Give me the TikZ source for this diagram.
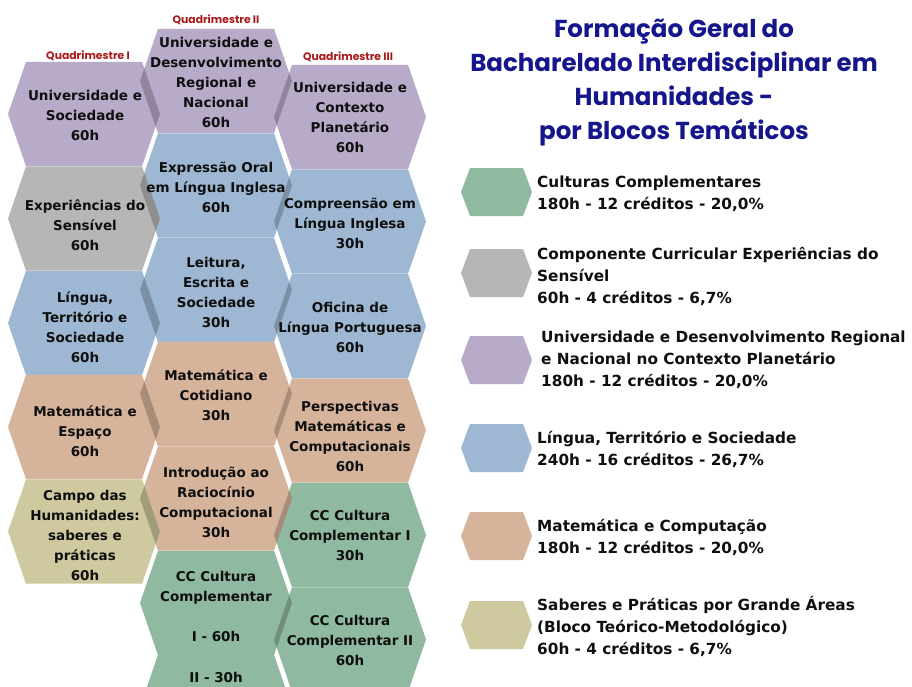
\documentclass[tikz,border=0pt]{standalone}
\usepackage{fontspec}
\setmainfont{DejaVu Sans}
\newfontfamily\titlefont{Poppins}
\definecolor{cpurp}{RGB}{184,171,201}
\definecolor{cgrey}{RGB}{182,182,182}
\definecolor{cblue}{RGB}{158,184,211}
\definecolor{ctan}{RGB}{214,180,155}
\definecolor{ckhaki}{RGB}{206,201,158}
\definecolor{cgreen}{RGB}{143,185,160}
\definecolor{ctitle}{RGB}{22,22,140}
\definecolor{cquad}{RGB}{170,25,25}
\definecolor{ctext}{RGB}{15,15,15}
\tikzset{
 hexp/.style 2 args={insert path={({#1-76},#2) -- ({#1-58},{#2-52.2}) -- ({#1+58},{#2-52.2}) -- ({#1+76},#2) -- ({#1+58},{#2+52.2}) -- ({#1-58},{#2+52.2}) -- cycle}},
 lhexp/.style 2 args={insert path={({#1-35.5},#2) -- ({#1-26.5},{#2-24}) -- ({#1+26.5},{#2-24}) -- ({#1+35.5},#2) -- ({#1+26.5},{#2+24}) -- ({#1-26.5},{#2+24}) -- cycle}},
 hextext/.style={align=center, text=ctext, font=\fontsize{13.5}{20}\selectfont\bfseries, inner sep=0pt},
 legtext/.style={align=left, anchor=west, text=ctext, font=\fontsize{15.3}{22}\selectfont\bfseries, inner sep=0pt},
 quadtext/.style={text=cquad, font=\titlefont\bfseries\fontsize{10.8}{13}\selectfont, inner sep=0pt},
 titletext/.style={align=center, text=ctitle, font=\titlefont\bfseries\fontsize{24.5}{34}\selectfont, inner sep=0pt},
}
\begin{document}
\begin{tikzpicture}[x=1pt,y=-1pt]
\useasboundingbox (0,0) rectangle (912,686);
\clip (0,0) rectangle (912,686);
\fill[white] (0,0) rectangle (912,686);
% column 2 faces
\foreach \d/\col in {81/cpurp,185.5/cblue,290/cblue,394/ctan,498.5/ctan,603/cgreen,707/cgreen}{
  \fill[fill=\col, hexp={216}{\d}];
}
% column 3 faces
\foreach \d/\col in {117/cpurp,221.5/cblue,326/cblue,430.5/ctan,535/cgreen,639.5/cgreen}{
  \fill[fill=\col, hexp={350}{\d}];
}
% folds between column 2 and column 3
\foreach \c in {117,221.5,326,430.5,535,639.5}{
  \begin{scope}
    \clip[hexp={350}{\c}];
    \foreach \d/\col in {81/cpurp,185.5/cblue,290/cblue,394/ctan,498.5/ctan,603/cgreen,707/cgreen}{
      \fill[fill=\col!78!black, hexp={216}{\d}];
    }
  \end{scope}
}
% column 1 faces
\foreach \d/\col in {114/cpurp,218.5/cgrey,323/cblue,427/ctan,531.5/ckhaki}{
  \fill[fill=\col, hexp={84}{\d}];
}
% folds between column 1 and column 2
\foreach \c in {81,185.5,290,394,498.5,603,707}{
  \begin{scope}
    \clip[hexp={216}{\c}];
    \foreach \d/\col in {114/cpurp,218.5/cgrey,323/cblue,427/ctan,531.5/ckhaki}{
      \fill[fill=\col!78!black, hexp={84}{\d}];
    }
  \end{scope}
}
% quadrimestre labels
\node[quadtext] (q1) at (88,56) {Quadrimestre I};
\node[quadtext] (q2) at (216,20) {Quadrimestre II};
\node[quadtext] (q3) at (348,57) {Quadrimestre III};
% column 1 texts
\node[hextext] (t11) at (85,115) {Universidade e\\Sociedade\\60h};
\node[hextext] (t12) at (85,225) {Experiências do\\Sensível\\60h};
\node[hextext] (t13) at (85,327) {Língua,\\Território e\\Sociedade\\60h};
\node[hextext] (t14) at (85,431) {Matemática e\\Espaço\\60h};
\node[hextext] (t15) at (85,535) {Campo das\\Humanidades:\\saberes e\\práticas\\60h};
% column 2 texts
\node[hextext] (t21) at (216,82) {Universidade e\\Desenvolvimento\\Regional e\\Nacional\\60h};
\node[hextext] (t22) at (216,187) {Expressão Oral\\em Língua Inglesa\\60h};
\node[hextext] (t23) at (216,292) {Leitura,\\Escrita e\\Sociedade\\30h};
\node[hextext] (t24) at (216,395) {Matemática e\\Cotidiano\\30h};
\node[hextext] (t25) at (216,502) {Introdução ao\\Raciocínio\\Computacional\\30h};
\node[hextext] (t26) at (216,606) {CC Cultura\\Complementar\\[20pt]I - 60h};
\node[hextext] (t27) at (216,677) {II - 30h};
% column 3 texts
\node[hextext] (t31) at (350,117) {Universidade e\\Contexto\\Planetário\\60h};
\node[hextext] (t32) at (350,223) {Compreensão em\\Língua Inglesa\\30h};
\node[hextext] (t33) at (350,327) {Oficina de\\Língua Portuguesa\\60h};
\node[hextext] (t34) at (350,436) {Perspectivas\\Matemáticas e\\Computacionais\\60h};
\node[hextext] (t35) at (350,535) {CC Cultura\\Complementar I\\30h};
\node[hextext] (t36) at (350,640) {CC Cultura\\Complementar II\\60h};
% title
\node[titletext] (title) at (674,83) {Formação Geral do\\Bacharelado Interdisciplinar em\\Humanidades -\\por Blocos Temáticos};
% legend
\fill[fill=cgreen, lhexp={496.5}{192}];
\fill[fill=cgrey, lhexp={496.5}{273}];
\fill[fill=cpurp, lhexp={496.5}{360}];
\fill[fill=cblue, lhexp={496.5}{448}];
\fill[fill=ctan, lhexp={496.5}{536}];
\fill[fill=ckhaki, lhexp={496.5}{625}];
\node[legtext] (l1) at (537,193.5) {Culturas Complementares\\180h - 12 créditos - 20,0\%};
\node[legtext] (l2) at (537,276) {Componente Curricular Experiências do\\Sensível\\60h - 4 créditos - 6,7\%};
\node[legtext] (l3) at (541,360) {Universidade e Desenvolvimento Regional\\e Nacional no Contexto Planetário\\180h - 12 créditos - 20,0\%};
\node[legtext] (l4) at (537,449.5) {Língua, Território e Sociedade\\240h - 16 créditos - 26,7\%};
\node[legtext] (l5) at (537,537.5) {Matemática e Computação\\180h - 12 créditos - 20,0\%};
\node[legtext] (l6) at (537,626) {Saberes e Práticas por Grande Áreas\\(Bloco Teórico-Metodológico)\\60h - 4 créditos - 6,7\%};
\end{tikzpicture}
\end{document}
